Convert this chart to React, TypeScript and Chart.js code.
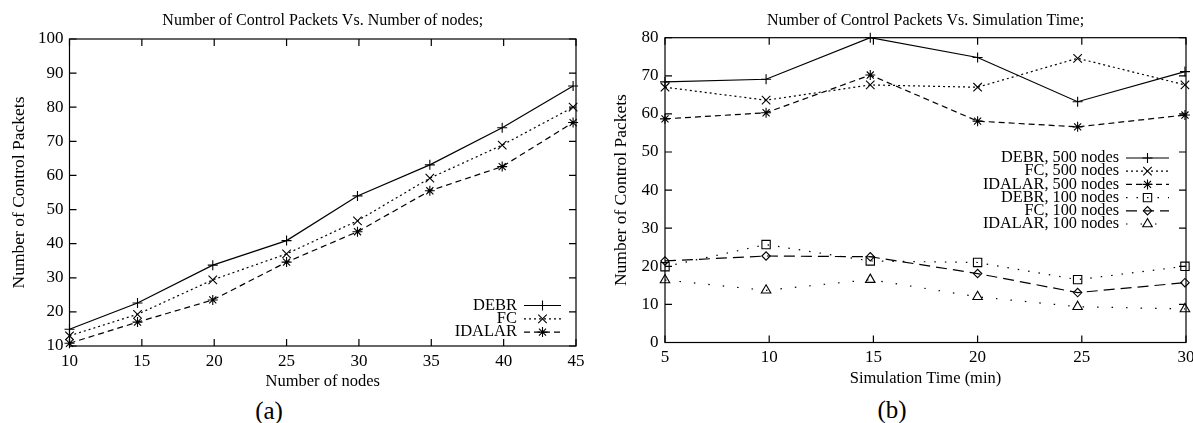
import React, { useEffect, useRef } from 'react';
import { Chart, registerables } from 'chart.js';
import { drawPoint } from 'chart.js/helpers';

Chart.register(...registerables);

const FONT = "'Liberation Serif', 'Times New Roman', Times, serif";

// ---------- Chart (a): Number of Control Packets vs. Number of nodes ----------
const nodesX = [10, 14.7, 19.9, 25, 29.9, 34.9, 39.9, 44.8];
const debrA = [14.9, 22.6, 33.7, 40.9, 54, 63.1, 74, 86.2];
const fcA = [13, 19.3, 29.4, 37, 46.7, 59.2, 68.9, 80];
const idalarA = [10.8, 17, 23.5, 34.6, 43.5, 55.5, 62.6, 75.5];
const xTicksA = [10, 15, 20, 25, 30, 35, 40, 45];
const yTicksA = [10, 20, 30, 40, 50, 60, 70, 80, 90, 100];

// ---------- Chart (b): Number of Control Packets vs. Simulation Time ----------
const timeX = [5, 9.85, 14.85, 20, 24.8, 29.95];
const debr500 = [68.4, 69.1, 80, 74.8, 63.2, 71.1];
const fc500 = [67, 63.6, 67.6, 67, 74.6, 67.6];
const idalar500 = [58.7, 60.3, 70.2, 58.1, 56.6, 59.7];
const debr100 = [19.9, 25.7, 21.4, 21, 16.5, 20];
const fc100 = [21.4, 22.7, 22.5, 18.1, 13.1, 15.7];
const idalar100 = [16.4, 13.7, 16.5, 12, 9.4, 8.8];
const xTicksB = [5, 10, 15, 20, 25, 30];
const yTicksB = [0, 10, 20, 30, 40, 50, 60, 70, 80];

const framePlugin = {
  id: 'gnuFrame',
  beforeDatasetsDraw(chart: any) {
    const { ctx, chartArea: a, scales } = chart;
    ctx.save();
    ctx.strokeStyle = '#000';
    ctx.lineWidth = 1.2;
    ctx.setLineDash([]);
    ctx.strokeRect(a.left, a.top, a.right - a.left, a.bottom - a.top);
    const L = 7;
    ctx.beginPath();
    scales.x.ticks.forEach((t: any) => {
      const px = scales.x.getPixelForValue(t.value);
      ctx.moveTo(px, a.bottom);
      ctx.lineTo(px, a.bottom - L);
      ctx.moveTo(px, a.top);
      ctx.lineTo(px, a.top + L);
    });
    scales.y.ticks.forEach((t: any) => {
      const py = scales.y.getPixelForValue(t.value);
      ctx.moveTo(a.left, py);
      ctx.lineTo(a.left + L, py);
      ctx.moveTo(a.right, py);
      ctx.lineTo(a.right - L, py);
    });
    ctx.stroke();
    ctx.restore();
  },
};

const legendPlugin = {
  id: 'gnuLegend',
  afterDatasetsDraw(chart: any, _args: any, opts: any) {
    const { ctx } = chart;
    ctx.save();
    ctx.font = `${opts.fontSize}px ${FONT}`;
    ctx.textAlign = 'right';
    ctx.textBaseline = 'middle';
    chart.data.datasets.forEach((ds: any, i: number) => {
      const y = opts.top + i * opts.spacing;
      ctx.fillStyle = '#000';
      ctx.fillText(ds.label, opts.textRight, y);
      ctx.beginPath();
      ctx.strokeStyle = '#000';
      ctx.lineWidth = ds.borderWidth;
      ctx.setLineDash(ds.borderDash || []);
      ctx.moveTo(opts.sampleLeft, y);
      ctx.lineTo(opts.sampleRight, y);
      ctx.stroke();
      ctx.setLineDash([]);
      ctx.lineWidth = ds.pointBorderWidth;
      ctx.fillStyle = 'rgba(0,0,0,0)';
      drawPoint(
        ctx,
        { pointStyle: ds.pointStyle, radius: ds.pointRadius, rotation: 0, borderWidth: ds.pointBorderWidth } as any,
        (opts.sampleLeft + opts.sampleRight) / 2,
        y
      );
    });
    ctx.restore();
  },
};

function series(label: string, xs: number[], ys: number[], dash: number[], style: string, radius: number) {
  return {
    label,
    data: xs.map((x, i) => ({ x, y: ys[i] })),
    borderColor: '#000',
    borderWidth: 1.2,
    borderDash: dash,
    pointStyle: style,
    pointRadius: radius,
    pointHoverRadius: radius,
    pointBorderColor: '#000',
    pointBackgroundColor: 'rgba(0,0,0,0)',
    pointBorderWidth: 1.1,
    tension: 0,
    fill: false,
    clip: false as any,
  };
}

function makeOptions(cfg: {
  title: string; xTitle: string; yTitle: string;
  xMin: number; xMax: number; yMin: number; yMax: number;
  xTicks: number[]; yTicks: number[];
  yWidth: number; xHeight: number; padRight: number;
  titleTop: number; titleBottom: number;
  xTitleBottom: number; yTitleTop: number; yTickPad: number;
  legend: any;
}) {
  return {
    animation: false as const,
    responsive: false,
    devicePixelRatio: 1,
    layout: { padding: { left: 0, right: cfg.padRight, top: 0, bottom: 0 } },
    plugins: {
      legend: { display: false },
      tooltip: { enabled: false },
      title: {
        display: true,
        text: cfg.title,
        color: '#000',
        fullSize: false,
        font: { family: FONT, size: 16, weight: 'normal' as const },
        padding: { top: cfg.titleTop, bottom: cfg.titleBottom },
      },
      gnuLegend: cfg.legend,
    },
    scales: {
      x: {
        type: 'linear' as const,
        min: cfg.xMin,
        max: cfg.xMax,
        afterBuildTicks: (s: any) => { s.ticks = cfg.xTicks.map((v) => ({ value: v })); },
        afterFit: (s: any) => { s.height = cfg.xHeight; },
        grid: { display: false, drawTicks: false },
        border: { display: false },
        ticks: { color: '#000', font: { family: FONT, size: 17 }, padding: 5, maxRotation: 0, autoSkip: false },
        title: {
          display: true, text: cfg.xTitle, color: '#000',
          font: { family: FONT, size: 16.5 },
          padding: { top: 0, bottom: cfg.xTitleBottom },
        },
      },
      y: {
        type: 'linear' as const,
        min: cfg.yMin,
        max: cfg.yMax,
        afterBuildTicks: (s: any) => { s.ticks = cfg.yTicks.map((v) => ({ value: v })); },
        afterFit: (s: any) => { s.width = cfg.yWidth; },
        grid: { display: false, drawTicks: false },
        border: { display: false },
        ticks: { color: '#000', font: { family: FONT, size: 17 }, padding: cfg.yTickPad, autoSkip: false },
        title: {
          display: true, text: cfg.yTitle, color: '#000',
          font: { family: FONT, size: 17.5 },
          padding: { top: cfg.yTitleTop, bottom: 0 },
        },
      },
    },
  };
}

export default function App() {
  const refA = useRef<HTMLCanvasElement>(null);
  const refB = useRef<HTMLCanvasElement>(null);

  useEffect(() => {
    const chartA = new Chart(refA.current as HTMLCanvasElement, {
      type: 'line',
      data: {
        datasets: [
          series('DEBR', nodesX, debrA, [], 'cross', 5),
          series('FC', nodesX, fcA, [2, 3], 'crossRot', 6),
          series('IDALAR', nodesX, idalarA, [6, 4], 'star', 5),
        ],
      },
      options: makeOptions({
        title: 'Number of Control Packets Vs. Number of nodes;',
        xTitle: 'Number of nodes',
        yTitle: 'Number of Control Packets',
        xMin: 10, xMax: 45, yMin: 10, yMax: 100,
        xTicks: xTicksA, yTicks: yTicksA,
        yWidth: 69.5, xHeight: 49, padRight: 24,
        titleTop: 11.4, titleBottom: 8.4,
        xTitleBottom: 3, yTitleTop: 8.5, yTickPad: 6,
        legend: { fontSize: 16.5, textRight: 517, sampleLeft: 524, sampleRight: 561, top: 305.5, spacing: 13.3 },
      }) as any,
      plugins: [framePlugin, legendPlugin],
    });

    const chartB = new Chart(refB.current as HTMLCanvasElement, {
      type: 'line',
      data: {
        datasets: [
          series('DEBR, 500 nodes', timeX, debr500, [], 'cross', 5),
          series('FC, 500 nodes', timeX, fc500, [2, 3], 'crossRot', 6),
          series('IDALAR, 500 nodes', timeX, idalar500, [6, 4], 'star', 5),
          series('DEBR, 100 nodes', timeX, debr100, [1.5, 9], 'rect', 5.9),
          series('FC, 100 nodes', timeX, fc100, [11, 6], 'rectRot', 4.2),
          series('IDALAR, 100 nodes', timeX, idalar100, [1.5, 13], 'triangle', 5.5),
        ],
      },
      options: makeOptions({
        title: 'Number of Control Packets Vs. Simulation Time;',
        xTitle: 'Simulation Time (min)',
        yTitle: 'Number of Control Packets',
        xMin: 5, xMax: 30, yMin: 0, yMax: 80,
        xTicks: xTicksB, yTicks: yTicksB,
        yWidth: 65, xHeight: 52.5, padRight: 14,
        titleTop: 11.4, titleBottom: 7.1,
        xTitleBottom: 6, yTitleTop: 10.5, yTickPad: 6.5,
        legend: { fontSize: 16.3, textRight: 519, sampleLeft: 526, sampleRight: 569, top: 158, spacing: 13.2 },
      }) as any,
      plugins: [framePlugin, legendPlugin],
    });

    return () => {
      chartA.destroy();
      chartB.destroy();
    };
  }, []);

  const capStyle: React.CSSProperties = {
    position: 'absolute',
    width: 100,
    textAlign: 'center',
    fontFamily: FONT,
    fontSize: 25,
    lineHeight: '25px',
    color: '#000',
  };

  return (
    <div style={{ position: 'fixed', left: 0, top: 0, width: 1193, height: 423, background: '#fff', overflow: 'hidden' }}>
      <canvas ref={refA} width={600} height={395} style={{ position: 'absolute', left: 0, top: 0, width: 600, height: 395 }} />
      <canvas ref={refB} width={600} height={395} style={{ position: 'absolute', left: 600, top: 0, width: 600, height: 395 }} />
      <div style={{ ...capStyle, left: 219, top: 398 }}>(a)</div>
      <div style={{ ...capStyle, left: 842, top: 397 }}>(b)</div>
    </div>
  );
}
